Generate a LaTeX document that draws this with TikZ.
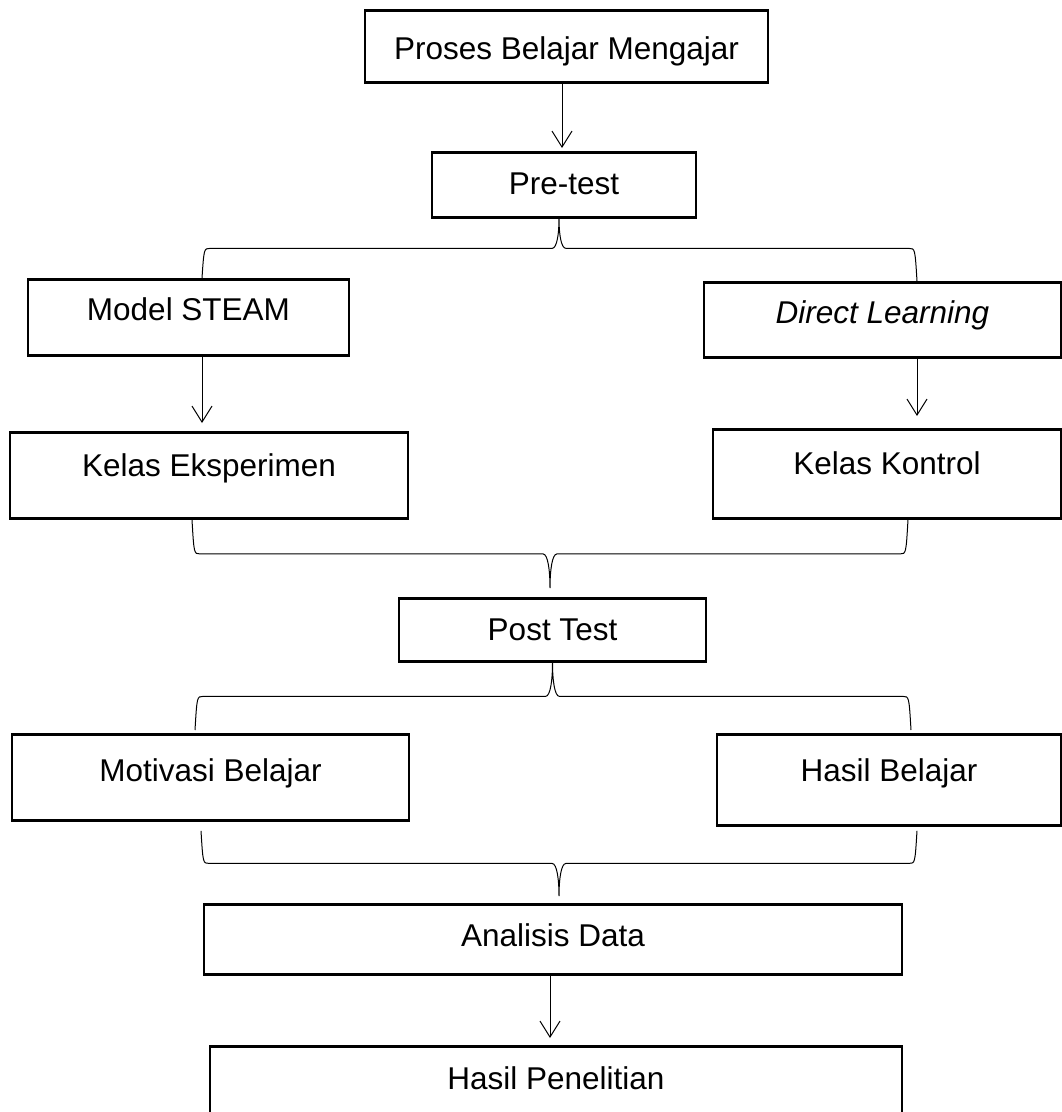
\documentclass[tikz,border=0pt]{standalone}
\usepackage{fontspec}
\setmainfont{Liberation Sans}
\usepackage{tikz}
\usetikzlibrary{arrows.meta,calc}

\tikzset{
  box/.style={draw, line width=2.8pt, inner sep=0pt, anchor=north},
  arr/.style={-{Straight Barb[length=16pt,width=20pt]}, line width=1pt},
  brace line/.style={line width=1pt}
}

% brace from one box to two boxes: #1 tip, #2 left end, #3 right end
\newcommand{\joinBrace}[3]{
    \draw[brace line] let \p1=(#1), \p2=(#2), \p3=(#3),
        \p4=($(\p1)!.5!(\p2)$), \p5=($(\p1)!.5!(\p4)$) in
      (\p2) .. controls (\x2+2pt,\y4) .. (\x2+8pt,\y4)
      -- (\x1-7pt,\y4) .. controls (\x1-2pt,\y4) and (\x1,\y5) .. (\p1)
      .. controls (\x1,\y5) and (\x1+2pt,\y4) .. (\x1+7pt,\y4)
      -- (\x3-8pt,\y4) .. controls (\x3-2pt,\y4) .. (\p3);
}

\begin{document}
\begin{tikzpicture}[x=1pt,y=-1pt,font=\fontsize{31.5}{38}\selectfont]
  \useasboundingbox (0,0) rectangle (1062,1112);

  % Draw the boxes
  \node[box, minimum width=403pt, text height=49pt, text depth=23pt] (proses) at (566.5,9) {Proses Belajar Mengajar};
  \node[box, minimum width=264pt, text height=42pt, text depth=23pt] (pre) at (564,151) {Pre-test};
  \node[box, minimum width=321pt, text height=41pt, text depth=35pt] (steam) at (188.5,278) {Model STEAM};
  \node[box, minimum width=357pt, text height=41pt, text depth=34pt] (direct) at (882.5,281) {\itshape Direct Learning};
  \node[box, minimum width=398pt, text height=44pt, text depth=42pt] (eksp) at (209,431) {Kelas Eksperimen};
  \node[box, minimum width=348pt, text height=45pt, text depth=44pt] (kontrol) at (887,428) {Kelas Kontrol};
  \node[box, minimum width=307pt, text height=42pt, text depth=21pt] (post) at (552.5,597) {Post Test};
  \node[box, minimum width=397pt, text height=47pt, text depth=39pt] (motivasi) at (210.5,733) {Motivasi Belajar};
  \node[box, minimum width=344pt, text height=47pt, text depth=44pt] (hasil) at (889,733) {Hasil Belajar};
  \node[box, minimum width=698pt, text height=42pt, text depth=28pt] (analisis) at (553,903) {Analisis Data};
  \node[box, minimum width=692pt, text height=43pt, text depth=45pt] (penelitian) at (556,1045) {Hasil Penelitian};

  % Draw the arrows
  \draw[arr] ([xshift=-4.5pt]proses.south) -- ([xshift=-2pt,yshift=3pt]pre.north);
  \draw[arr] ([xshift=13.5pt]steam.south) -- ([xshift=-7pt,yshift=8pt]eksp.north);
  \draw[arr] ([xshift=34.5pt]direct.south) -- ([xshift=30pt,yshift=12pt]kontrol.north);
  \draw[arr] ([xshift=-3pt]analisis.south) -- ([xshift=-6pt,yshift=7pt]penelitian.north);

  % Draw the braces
  \joinBrace{[xshift=-5pt]pre.south}{[xshift=13.5pt]steam.north}{[xshift=34.5pt]direct.north}
  \joinBrace{[xshift=-2.5pt,yshift=9pt]post.north}{[xshift=-17pt]eksp.south}{[xshift=21pt]kontrol.south}
  \joinBrace{post.south}{[xshift=-15.5pt,yshift=3pt]motivasi.north}{[xshift=22pt,yshift=3pt]hasil.north}
  \joinBrace{[xshift=6pt,yshift=7pt]analisis.north}{[xshift=-9.5pt,yshift=-9pt]motivasi.south}{[xshift=28pt,yshift=-4pt]hasil.south}
\end{tikzpicture}
\end{document}
